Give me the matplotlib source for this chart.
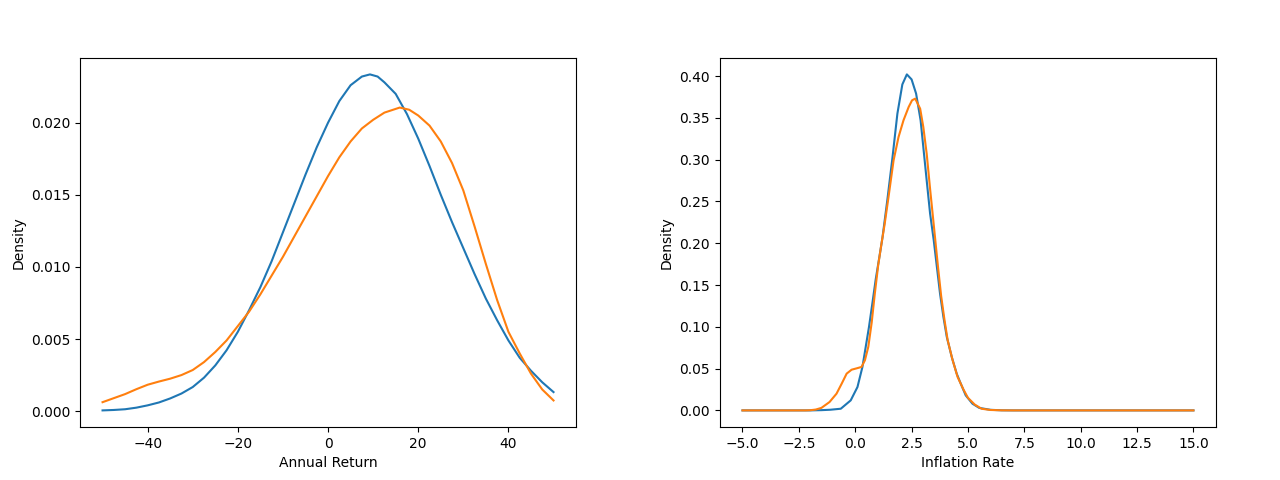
import numpy as np
import matplotlib
matplotlib.use("Agg")
import matplotlib.pyplot as plt

# annual return density
ret_x_a = [-50, -47.5, -45, -42.5, -40, -37.5, -35, -32.5, -30, -27.5, -25, -22.5, -20, -17.5, -15, -12.5,
           -10, -7.5, -5, -2.5, 0, 2.5, 5, 7.5, 9.3, 11, 12.5, 15, 17.5, 20, 22.5, 25, 27.5, 30, 32.5,
           35, 37.5, 40, 42.5, 45, 47.5, 50]
ret_y_a = [0.00005, 0.00008, 0.00013, 0.00024, 0.0004, 0.0006, 0.00088, 0.00122, 0.00167, 0.00232,
           0.00317, 0.00422, 0.0055, 0.0070, 0.0086, 0.0104, 0.0124, 0.0144, 0.0164, 0.0183, 0.0200,
           0.0215, 0.0226, 0.0232, 0.02335, 0.0232, 0.0228, 0.0220, 0.0206, 0.0189, 0.0170, 0.0150,
           0.0131, 0.0113, 0.0095, 0.0078, 0.0063, 0.0049, 0.0037, 0.0028, 0.0020, 0.00132]

ret_x_b = [-50, -47.5, -45, -42.5, -40, -37.5, -35, -32.5, -30, -27.5, -25, -22.5, -20, -17.5, -15, -12.5,
           -10, -7.5, -5, -2.5, 0, 2.5, 5, 7.5, 10, 12.5, 15.9, 18, 20, 22.5, 25, 27.5, 30, 32.5, 35,
           37.5, 40, 42.5, 45, 47.5, 50]
ret_y_b = [0.00062, 0.0009, 0.00118, 0.00152, 0.00183, 0.00205, 0.00225, 0.0025, 0.00285, 0.0034,
           0.0041, 0.0049, 0.0059, 0.0069, 0.0081, 0.0094, 0.0107, 0.0121, 0.0135, 0.0149, 0.0163,
           0.0176, 0.0187, 0.0196, 0.0202, 0.0207, 0.02105, 0.0209, 0.0205, 0.0198, 0.0187, 0.0172,
           0.0153, 0.0128, 0.0102, 0.0077, 0.0055, 0.0040, 0.0026, 0.0015, 0.00074]

# inflation rate density
inf_x_a = [-5, -2, -1.5, -1.1, -0.64, -0.2, 0.1, 0.32, 0.61, 0.76, 0.91, 1.08, 1.21, 1.43, 1.65, 1.87,
           2.09, 2.29, 2.5, 2.7, 2.9, 3.02, 3.17, 3.32, 3.48, 3.62, 3.76, 3.91, 4.06, 4.28, 4.5, 4.65,
           4.9, 5.2, 5.5, 6.0, 6.5, 7, 15]
inf_y_a = [0, 0, 0.0003, 0.0008, 0.002, 0.012, 0.028, 0.052, 0.0998, 0.128, 0.157, 0.185, 0.207, 0.253,
           0.302, 0.355, 0.390, 0.402, 0.396, 0.379, 0.347, 0.315, 0.275, 0.2355, 0.204, 0.172, 0.140,
           0.112, 0.088, 0.064, 0.044, 0.034, 0.018, 0.008, 0.003, 0.0007, 0.0001, 0, 0]

inf_x_b = [-5, -2.2, -2.0, -1.75, -1.5, -1.14, -0.83, -0.6, -0.38, -0.16, 0.06, 0.28, 0.43, 0.58, 0.73,
           0.87, 1.02, 1.15, 1.3, 1.48, 1.7, 1.92, 2.14, 2.37, 2.52, 2.66, 2.88, 3.02, 3.17, 3.32, 3.46,
           3.55, 3.67, 3.81, 3.96, 4.1, 4.32, 4.54, 4.8, 5.0, 5.3, 5.6, 6.0, 6.5, 7, 15]
inf_y_b = [0, 0, 0.0002, 0.001, 0.003, 0.010, 0.020, 0.032, 0.044, 0.0487, 0.0503, 0.052, 0.060, 0.076,
           0.105, 0.140, 0.174, 0.197, 0.222, 0.256, 0.299, 0.327, 0.347, 0.363, 0.371, 0.373, 0.361,
           0.339, 0.307, 0.265, 0.228, 0.204, 0.172, 0.137, 0.108, 0.084, 0.060, 0.040, 0.025, 0.015,
           0.007, 0.002, 0.0005, 0.0001, 0, 0]

fig, (ax1, ax2) = plt.subplots(1, 2, figsize=(12.8, 4.8), dpi=100)
fig.subplots_adjust(left=0.0625, right=0.95, top=0.88, bottom=0.11, wspace=0.29)

ax1.plot(ret_x_a, ret_y_a)
ax1.plot(ret_x_b, ret_y_b)
ax1.set_xlabel("Annual Return")
ax1.set_ylabel("Density")

ax2.plot(inf_x_a, inf_y_a)
ax2.plot(inf_x_b, inf_y_b)
ax2.set_xlabel("Inflation Rate")
ax2.set_ylabel("Density")

plt.savefig("out.png")
